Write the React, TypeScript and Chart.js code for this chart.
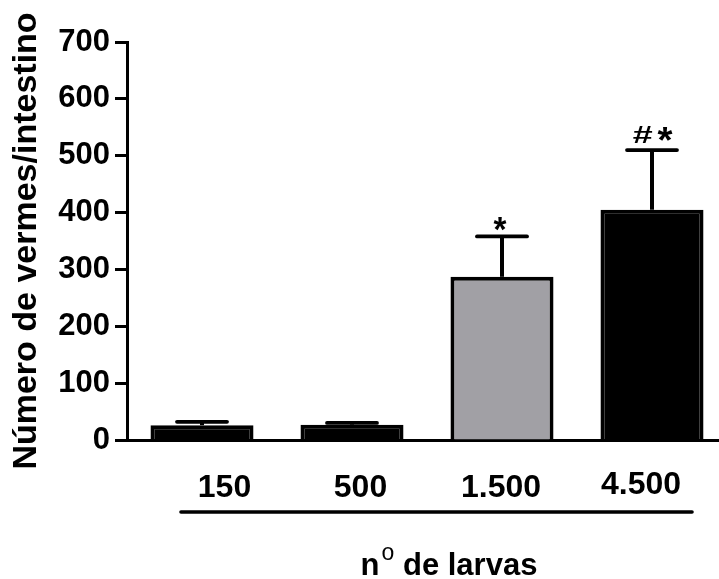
import React, { useEffect, useRef } from 'react';
import { Chart, registerables } from 'chart.js';

Chart.register(...registerables);

// ---- data ----
const categories = ['150', '500', '1.500', '4.500'];
const means = [26, 27, 287, 405];
const sems = [6, 3, 71, 105];
const barColors = ['#000000', '#000000', '#a1a0a5', '#000000'];
const yTickValues = [0, 100, 200, 300, 400, 500, 600, 700];
const annotations = ['', '', '*', '#*'];
const yTitle = 'Número de vermes/intestino';
const xTitleMain = 'n';
const xTitleSup = 'o';
const xTitleRest = ' de larvas';

// ---- style ----
const FONT = '"Liberation Sans", Arial, Helvetica, sans-serif';
const LABEL_DX = [22.5, 8.5, -1, -11];
const LABEL_BASELINE = [497, 497, 497, 494];
const ANNOT_LAYOUT: Record<string, { dx: number; dy: number; w: number; h: number; weight: string }[]> = {
  '*': [{ dx: -2, dy: -12.5, w: 13, h: 13, weight: 'bold' }],
  '#*': [
    { dx: -9.5, dy: -15, w: 19, h: 16, weight: 'bold' },
    { dx: 13, dy: -15, w: 15, h: 14, weight: 'bold' },
  ],
};

function drawGlyph(
  ctx: CanvasRenderingContext2D,
  ch: string,
  weight: string,
  targetW: number,
  targetH: number,
  cx: number,
  cy: number
) {
  ctx.font = `${weight} 100px ${FONT}`;
  const m = ctx.measureText(ch);
  const h = m.actualBoundingBoxAscent + m.actualBoundingBoxDescent;
  const w = m.actualBoundingBoxLeft + m.actualBoundingBoxRight;
  const sy = targetH / h;
  const sx = targetW / w;
  ctx.save();
  ctx.translate(cx, cy);
  ctx.scale(sx, sy);
  ctx.textAlign = 'left';
  ctx.textBaseline = 'alphabetic';
  const x = -(m.actualBoundingBoxRight - m.actualBoundingBoxLeft) / 2;
  const y = -(m.actualBoundingBoxDescent - m.actualBoundingBoxAscent) / 2;
  ctx.fillText(ch, x, y);
  ctx.restore();
}

const overlayPlugin = {
  id: 'overlay',
  afterDatasetsDraw(chart: any) {
    const ctx: CanvasRenderingContext2D = chart.ctx;
    const meta = chart.getDatasetMeta(0);
    const yScale = chart.scales.y;
    ctx.save();
    ctx.strokeStyle = '#000';
    ctx.fillStyle = '#000';
    meta.data.forEach((bar: any, i: number) => {
      const x = bar.x;
      const yTop = bar.y;
      const yErr = yScale.getPixelForValue(means[i] + sems[i]);
      ctx.lineCap = 'butt';
      ctx.lineWidth = 4;
      ctx.beginPath();
      ctx.moveTo(x, yTop);
      ctx.lineTo(x, yErr);
      ctx.stroke();
      ctx.lineCap = 'round';
      ctx.lineWidth = 3.8;
      ctx.beginPath();
      ctx.moveTo(x - 25, yErr);
      ctx.lineTo(x + 25, yErr);
      ctx.stroke();
      const layout = ANNOT_LAYOUT[annotations[i]];
      if (layout) {
        const chars = annotations[i].split('');
        chars.forEach((ch, k) => {
          const l = layout[k];
          drawGlyph(ctx, ch, l.weight, l.w, l.h, x + l.dx, yErr + l.dy);
        });
      }
    });
    ctx.restore();
  },
  afterDraw(chart: any) {
    const ctx: CanvasRenderingContext2D = chart.ctx;
    const meta = chart.getDatasetMeta(0);
    ctx.save();
    ctx.fillStyle = '#000';
    ctx.strokeStyle = '#000';
    // category labels
    ctx.font = `bold 32px ${FONT}`;
    ctx.textAlign = 'center';
    ctx.textBaseline = 'alphabetic';
    meta.data.forEach((bar: any, i: number) => {
      ctx.fillText(categories[i], bar.x + LABEL_DX[i], LABEL_BASELINE[i]);
    });
    // underline
    ctx.lineWidth = 3.6;
    ctx.lineCap = 'round';
    ctx.beginPath();
    ctx.moveTo(181, 512);
    ctx.lineTo(692, 512);
    ctx.stroke();
    // x title
    const mainFont = `bold 31px ${FONT}`;
    const supFont = `normal 23px ${FONT}`;
    ctx.textAlign = 'left';
    ctx.font = mainFont;
    const wMain = ctx.measureText(xTitleMain).width;
    const wRest = ctx.measureText(xTitleRest).width;
    ctx.font = supFont;
    const wSup = ctx.measureText(xTitleSup).width;
    const gap = 2;
    const total = wMain + gap + wSup + wRest;
    const x0 = 449 - total / 2;
    const base = 575;
    ctx.font = mainFont;
    ctx.fillText(xTitleMain, x0, base);
    ctx.font = supFont;
    ctx.fillText(xTitleSup, x0 + wMain + gap, base - 15);
    ctx.font = mainFont;
    ctx.fillText(xTitleRest, x0 + wMain + gap + wSup, base);
    ctx.restore();
  },
};

export default function App() {
  const canvasRef = useRef<HTMLCanvasElement | null>(null);

  useEffect(() => {
    if (!canvasRef.current) return;
    const chart = new Chart(canvasRef.current, {
      type: 'bar',
      data: {
        labels: categories,
        datasets: [
          {
            data: means,
            backgroundColor: barColors,
            borderColor: '#000',
            borderWidth: 4,
            borderSkipped: 'start',
            barPercentage: 0.687,
            categoryPercentage: 1,
          },
        ],
      },
      options: {
        animation: false,
        responsive: false,
        maintainAspectRatio: false,
        devicePixelRatio: 1,
        layout: { padding: { left: 0, right: 8, top: 42, bottom: 139 } },
        plugins: { legend: { display: false }, tooltip: { enabled: false }, title: { display: false } },
        scales: {
          x: {
            type: 'category',
            offset: true,
            ticks: { display: false },
            grid: { display: false },
            border: { display: true, width: 3, color: '#000' },
            afterFit: (s: any) => {
              s.height = 0;
            },
          },
          y: {
            min: 0,
            max: 700,
            afterBuildTicks: (s: any) => {
              s.ticks = yTickValues.map((v) => ({ value: v }));
            },
            ticks: {
              color: '#000',
              font: { family: FONT, size: 31, weight: 'bold' },
              padding: 5,
            },
            grid: {
              display: true,
              drawOnChartArea: false,
              drawTicks: true,
              tickLength: 12,
              tickWidth: 3,
              tickColor: '#000',
              color: '#000',
            },
            border: { display: true, width: 3, color: '#000' },
            title: {
              display: true,
              text: yTitle,
              color: '#000',
              font: { family: FONT, size: 34, weight: 'bold' },
              padding: { top: 6, bottom: 0 },
            },
            afterFit: (s: any) => {
              s.width = 127;
            },
          },
        },
      },
      plugins: [overlayPlugin],
    });
    return () => chart.destroy();
  }, []);

  return (
    <div style={{ position: 'fixed', left: 0, top: 0, width: 719, height: 579, overflow: 'hidden', background: '#fff' }}>
      <canvas ref={canvasRef} width={735} height={579} style={{ display: 'block' }} />
    </div>
  );
}
